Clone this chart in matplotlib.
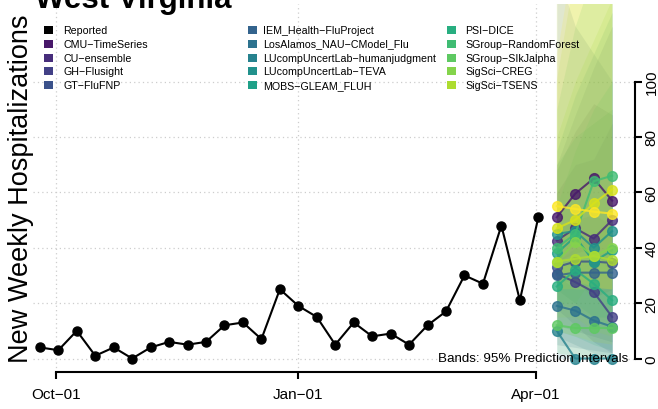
import numpy as np
import matplotlib
matplotlib.use("Agg")
import matplotlib.pyplot as plt
import matplotlib.dates as mdates
from matplotlib.patches import Rectangle

plt.rcParams['font.family'] = ['Liberation Sans', 'DejaVu Sans']

# ---------------- data ----------------
state = "West Virginia"
reported_start = "2022-09-25"
reported = [4, 3, 10, 1, 4, 0, 4, 6, 5, 6, 12, 13, 7, 25, 19, 15,
            5, 13, 8, 9, 5, 12, 17, 30, 27, 48, 21, 51]
forecast_start = "2023-04-09"

models = ["CMU-TimeSeries", "CU-ensemble", "GH-Flusight", "GT-FluFNP",
          "IEM_Health-FluProject", "LosAlamos_NAU-CModel_Flu",
          "LUcompUncertLab-humanjudgment", "LUcompUncertLab-TEVA",
          "MOBS-GLEAM_FLUH", "PSI-DICE", "SGroup-RandomForest",
          "SGroup-SIkJalpha", "SigSci-CREG", "SigSci-TSENS",
          "Model-15", "Model-16"]
n_legend_models = 14

fc_median = [
    [51, 59.5, 65, 57],
    [42.6, 47, 43.3, 50],
    [30.6, 27.6, 24, 15],
    [33, 35, 35, 34.5],
    [30, 31, 31, 31],
    [19, 17.3, 13.7, 11.5],
    [10, 0, 0, 0],
    [45, 46, 40, 46],
    [38, 44, 35, 39],
    [26, 32, 27, 21],
    [40, 45, 64, 66],
    [12, 11, 11, 11],
    [35, 42, 37, 40],
    [35, 36, 37, 35.5],
    [47, 50, 56, 61],
    [55, 54, 53, 52.3],
]
fc_lower = [
    [35, 38, 40, 30],
    [28, 28, 22, 25],
    [18, 12, 6, 2],
    [12, 10, 8, 6],
    [5, 4, 3, 2],
    [8, 5, 2, 0],
    [0, 0, 0, 0],
    [25, 20, 15, 15],
    [20, 18, 12, 10],
    [10, 8, 5, 3],
    [20, 20, 30, 30],
    [2, 1, 0, 0],
    [15, 15, 10, 8],
    [10, 8, 6, 5],
    [25, 25, 25, 25],
    [30, 28, 26, 25],
]
fc_upper = [
    [68, 82, 92, 88],
    [60, 70, 72, 85],
    [48, 50, 52, 48],
    [70, 88, 105, 120],
    [140, 120, 110, 100],
    [35, 40, 38, 36],
    [30, 25, 25, 25],
    [75, 95, 110, 125],
    [70, 80, 85, 90],
    [55, 75, 90, 100],
    [90, 120, 140, 150],
    [30, 40, 45, 50],
    [80, 100, 115, 130],
    [100, 140, 160, 180],
    [130, 160, 180, 200],
    [110, 150, 140, 160],
]

y_ticks = [0, 20, 40, 60, 80, 100]
x_tick_dates = ["2022-10-01", "2023-01-01", "2023-04-01"]
x_tick_labels = ["Oct\u221201", "Jan\u221201", "Apr\u221201"]

# ---------------- figure ----------------
W, H = 658, 410
fig = plt.figure(figsize=(W / 100, H / 100), dpi=100)
ax = fig.add_axes([33 / W, 37 / H, 602 / W, 368 / H])

rep_dates = np.arange(np.datetime64(reported_start), np.datetime64(reported_start) + 7 * len(reported), 7)
fc_dates = np.arange(np.datetime64(forecast_start), np.datetime64(forecast_start) + 7 * 4, 7)
rep_x = mdates.date2num(rep_dates.astype("datetime64[D]").astype(object))
fc_x = mdates.date2num(fc_dates.astype("datetime64[D]").astype(object))
tick_x = mdates.date2num([np.datetime64(d).astype(object) for d in x_tick_dates])

colors = plt.cm.viridis(np.linspace(0, 1, len(models) + 1))[1:]

# bands
for i in range(len(models)):
    ax.fill_between(fc_x, fc_lower[i], fc_upper[i], color=colors[i], alpha=0.14, lw=0, zorder=2)

# grid
grid_style = dict(color="#cdcdcd", lw=0.9, ls=(0, (1, 2.5)), zorder=1)
for y in y_ticks:
    ax.axhline(y, **grid_style)
for x in tick_x:
    ax.axvline(x, **grid_style)

# forecasts
for i in range(len(models)):
    ax.plot(fc_x, fc_median[i], "-o", color=colors[i], lw=1.5, ms=7, alpha=0.8, zorder=4)

# reported
ax.plot(rep_x, reported, "-o", color="black", lw=1.5, ms=6.5, zorder=5)

ax.set_xlim(tick_x[0] - 8.61, tick_x[2] + 37.66)
ax.set_ylim(-4.87, 127.98)

ax.spines["top"].set_visible(False)
ax.spines["left"].set_visible(False)
ax.spines["bottom"].set_bounds(tick_x[0], tick_x[2])
ax.spines["right"].set_bounds(0, 100)
for s in ("bottom", "right"):
    ax.spines[s].set_linewidth(1.5)

ax.set_xticks(tick_x)
ax.set_xticklabels(x_tick_labels)
ax.yaxis.tick_right()
ax.set_yticks(y_ticks)
ax.set_yticklabels([str(v) for v in y_ticks])
ax.tick_params(axis="both", direction="out", length=5, width=1.5, labelsize=11)
ax.tick_params(axis="x", pad=6)
ax.tick_params(axis="y", pad=2)
for lbl in ax.get_yticklabels():
    lbl.set_rotation(90)
    lbl.set_va("center")
    lbl.set_ha("left")
ax.patch.set_alpha(0)

# texts
fig.text(35 / W, 1 - 8 / H, state, fontsize=22.5, fontweight="bold", ha="left", va="baseline")
fig.text(21 / W, 1 - 189 / H, "New Weekly Hospitalizations", fontsize=19.5, rotation=90,
         ha="center", va="center")
fig.text(628 / W, 1 - 359 / H, "Bands: 95% Prediction Intervals", fontsize=9.6,
         ha="right", va="center", zorder=10)

# legend
leg_labels = ["Reported"] + models[:n_legend_models]
leg_colors = ["black"] + list(colors[:n_legend_models])
sq_left = [44.3, 248.0, 446.5]
txt_left = [63.3, 263.3, 465.0]
for k, (lab, col) in enumerate(zip(leg_labels, leg_colors)):
    c, r = divmod(k, 5)
    yc = 30.7 + 13.9 * r
    fig.patches.append(Rectangle((sq_left[c] / W, 1 - (yc + 4) / H), 9 / W, 8 / H,
                                 transform=fig.transFigure, facecolor=col, edgecolor="none"))
    fig.text(txt_left[c] / W, 1 - yc / H, lab.replace("-", "\u2212"), fontsize=7.65,
             ha="left", va="center")

fig.savefig("out.png", dpi=100)
